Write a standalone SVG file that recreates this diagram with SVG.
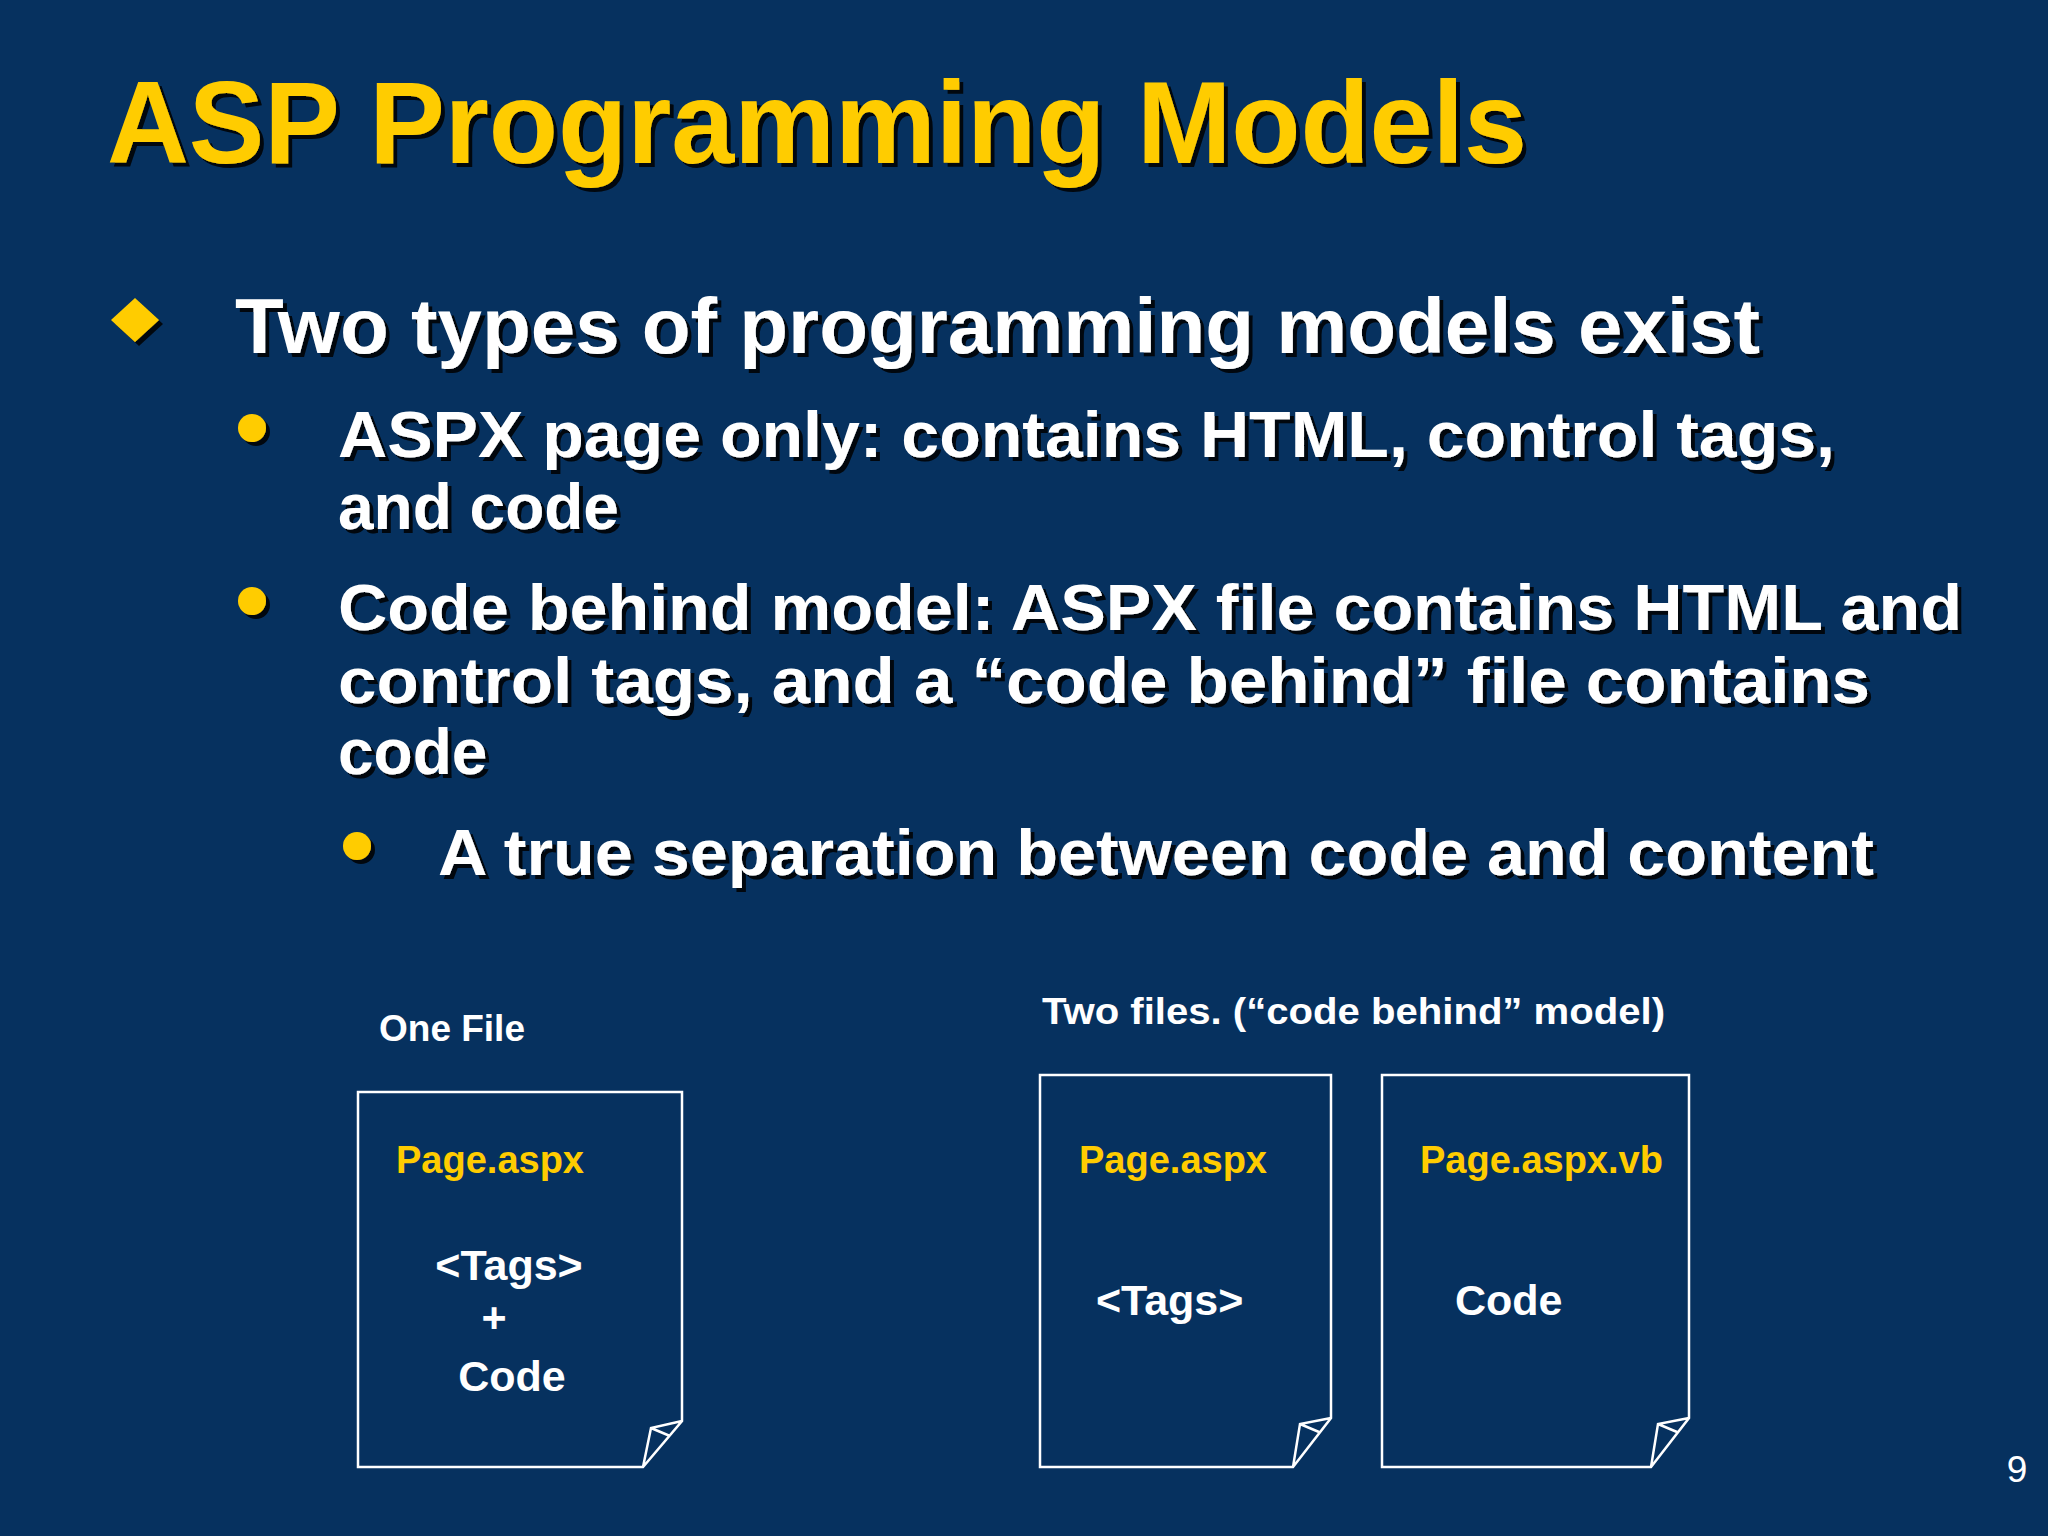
<svg xmlns="http://www.w3.org/2000/svg" width="2048" height="1536" viewBox="0 0 2048 1536">
<defs>
<filter id="sh" x="-5%" y="-20%" width="110%" height="140%"><feDropShadow dx="4" dy="4" stdDeviation="0.5" flood-color="#000" flood-opacity="0.85"/></filter>
<style>
text{font-family:"Liberation Sans",Arial,sans-serif;font-weight:bold}
.t{fill:#FFCC00;font-size:116px}
.w{fill:#fff}
.b1{font-size:78px}
.b2{font-size:64px}
.y{fill:#FFCC00}
.doc{fill:none;stroke:#fff;stroke-width:2.5}
.lbl{fill:#fff;font-size:37px}
.fn{fill:#FFCC00;font-size:38px}
.in{fill:#fff;font-size:43px}
</style>
</defs>
<rect width="2048" height="1536" fill="#06315f"/>
<g id="title" filter="url(#sh)"><text class="t" x="107" y="163" textLength="1420" lengthAdjust="spacingAndGlyphs">ASP Programming Models</text></g>
<g id="bullets" filter="url(#sh)">
<path d="M135 298 L159 320 L135 342 L111 320 Z" fill="#FFCC00"/>
<text class="w b1" x="235" y="353" textLength="1525" lengthAdjust="spacingAndGlyphs">Two types of programming models exist</text>
<circle cx="252" cy="428" r="14" fill="#FFCC00"/>
<text class="w b2" x="338" y="457" textLength="1497" lengthAdjust="spacingAndGlyphs">ASPX page only: contains HTML, control tags,</text>
<text class="w b2" x="338" y="529">and code</text>
<circle cx="252" cy="601" r="14" fill="#FFCC00"/>
<text class="w b2" x="338" y="630" textLength="1624" lengthAdjust="spacingAndGlyphs">Code behind model: ASPX file contains HTML and</text>
<text class="w b2" x="338" y="703" textLength="1532" lengthAdjust="spacingAndGlyphs">control tags, and  a “code behind” file contains</text>
<text class="w b2" x="338" y="774">code</text>
<circle cx="357" cy="846" r="14" fill="#FFCC00"/>
<text class="w b2" x="438" y="875" textLength="1436" lengthAdjust="spacingAndGlyphs">A true separation between code and content</text>
</g>
<g id="labels">
<text class="lbl" x="379" y="1041">One File</text>
<text class="lbl" x="1042" y="1024" textLength="623" lengthAdjust="spacingAndGlyphs">Two files. (“code behind” model)</text>
</g>
<g id="doc1">
<path class="doc" d="M358 1092 H682 V1421 L643 1467 H358 Z M643 1467 L651 1428 L682 1421 M651 1428 L670 1436"/>
<text class="fn" x="396" y="1173">Page.aspx</text>
<text class="in" x="509" y="1280" text-anchor="middle">&lt;Tags&gt;</text>
<text class="in" x="494" y="1332" text-anchor="middle">+</text>
<text class="in" x="512" y="1391" text-anchor="middle">Code</text>
</g>
<g id="doc2">
<path class="doc" d="M1040 1075 H1331 V1418 L1293 1467 H1040 Z M1293 1467 L1300 1424 L1331 1418 M1300 1424 L1319 1432"/>
<text class="fn" x="1079" y="1173">Page.aspx</text>
<text class="in" x="1096" y="1315">&lt;Tags&gt;</text>
</g>
<g id="doc3">
<path class="doc" d="M1382 1075 H1689 V1418 L1651 1467 H1382 Z M1651 1467 L1658 1424 L1689 1418 M1658 1424 L1677 1432"/>
<text class="fn" x="1420" y="1173">Page.aspx.vb</text>
<text class="in" x="1455" y="1315">Code</text>
</g>
<g id="connectors"></g>
<text x="2017" y="1482" text-anchor="middle" style="font-weight:normal;font-size:37px;fill:#fff">9</text>
</svg>
